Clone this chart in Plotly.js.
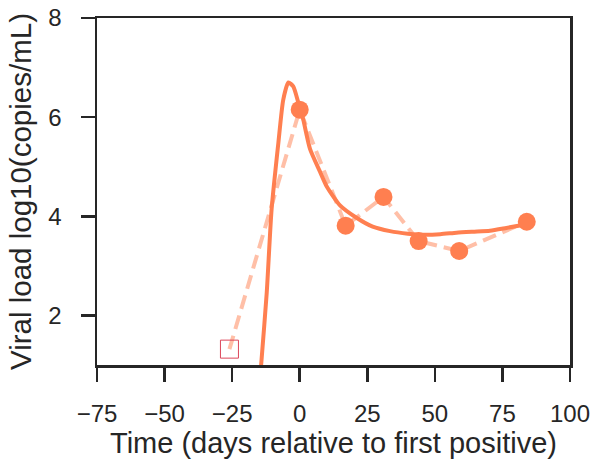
<!DOCTYPE html>
<html>
<head>
<meta charset="utf-8">
<script src="https://cdn.plot.ly/plotly-3.0.1.min.js"></script>
<style>html,body{margin:0;padding:0;background:#fff;}#chart{width:594px;height:462px;}</style>
</head>
<body>
<div id="chart"></div>
<script>
// Observed data (days relative to first positive, log10 copies/mL)
const obsDays = [0, 17, 31, 44, 59, 84];
const obsLoad = [6.15, 3.81, 4.39, 3.50, 3.30, 3.89];
// Undetected / below-limit sample (open square)
const preDays = [-26];
const preLoad = [1.32];
// Fitted model curve
const fitDays = [-15, -14.1, -12.2, -10.4, -7.9, -6.1, -4.2, -2.4, -0.5, 1.3, 3.8, 7.5, 10, 14.9, 21, 27, 33.4, 40, 45.7, 52, 58, 64, 70.4, 76, 84];
const fitLoad = [0.5, 1.12, 2.46, 4.14, 5.48, 6.35, 6.70, 6.62, 6.29, 5.95, 5.36, 4.90, 4.60, 4.22, 3.97, 3.79, 3.70, 3.65, 3.63, 3.64, 3.67, 3.69, 3.71, 3.76, 3.84];
// Tick values
const xTicks = [-75, -50, -25, 0, 25, 50, 75, 100];
const yTicks = [2, 4, 6, 8];

const coral = '#FF7F50';
const ink = '#262626';

const traces = [
  {
    x: preDays.concat(obsDays), y: preLoad.concat(obsLoad),
    type: 'scatter', mode: 'lines',
    line: {color: 'rgba(255,127,80,0.5)', width: 4, dash: '14px,7px'},
    hoverinfo: 'skip', showlegend: false
  },
  {
    x: fitDays, y: fitLoad,
    type: 'scatter', mode: 'lines',
    line: {color: coral, width: 4, shape: 'spline', smoothing: 0.6},
    showlegend: false
  },
  {
    x: obsDays, y: obsLoad,
    type: 'scatter', mode: 'markers',
    marker: {color: coral, size: 18, line: {width: 0}},
    showlegend: false
  },
  {
    x: preDays, y: preLoad,
    type: 'scatter', mode: 'markers',
    marker: {symbol: 'square-open', color: 'rgb(220,70,90)', size: 18, line: {width: 1}},
    showlegend: false
  }
];

const axisCommon = {
  showline: true, mirror: true, linecolor: ink, linewidth: 2.5,
  ticks: 'outside', ticklen: 14, tickwidth: 2.5, tickcolor: ink,
  showgrid: false, zeroline: false,
  tickfont: {family: 'Liberation Sans, Arial, sans-serif', size: 24, color: ink}
};

const layout = {
  width: 594, height: 462,
  margin: {l: 97, r: 24, t: 18, b: 97},
  paper_bgcolor: '#fff', plot_bgcolor: '#fff',
  font: {family: 'Liberation Sans, Arial, sans-serif', color: ink},
  xaxis: Object.assign({}, axisCommon, {
    range: [-75, 100], tickvals: xTicks, ticklabelstandoff: 12,
    title: {text: 'Time (days relative to first positive)', font: {size: 29, color: ink}, standoff: 4}
  }),
  yaxis: Object.assign({}, axisCommon, {
    range: [1, 8], tickvals: yTicks, ticklabelstandoff: 14,
    title: {text: 'Viral load log10(copies/mL)', font: {size: 29.5, color: ink}, standoff: 8}
  }),
  showlegend: false
};

Plotly.newPlot('chart', traces, layout, {displayModeBar: false, staticPlot: true});
</script>
</body>
</html>
